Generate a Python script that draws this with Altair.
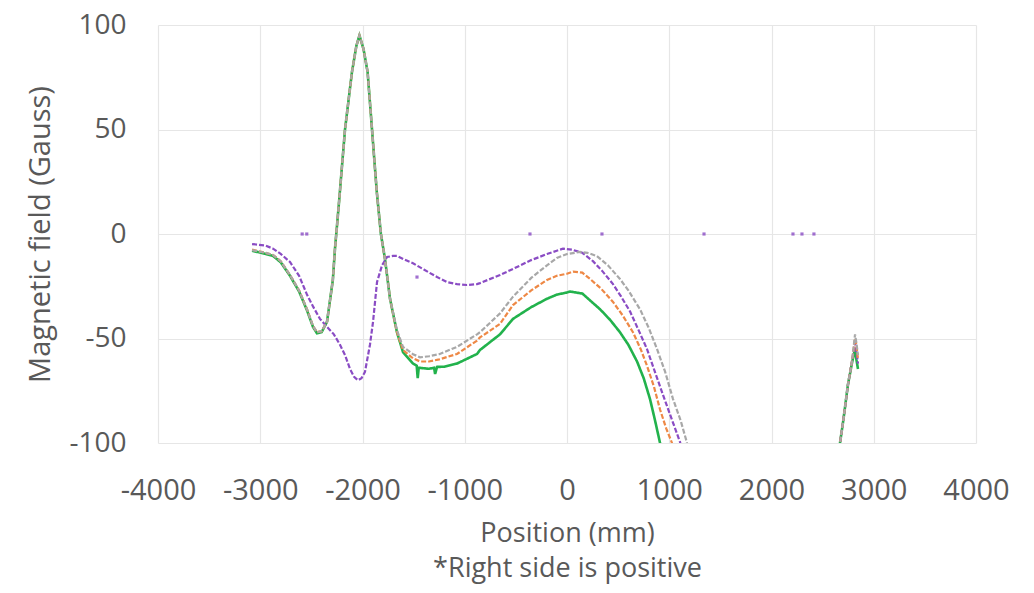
import altair as alt
import pandas as pd

# ---------------- data ----------------
gray_x = [-3080, -2950, -2875, -2800, -2709, -2620, -2543, -2484, -2445, -2400, -2347, -2290, -2269,
          -2230, -2171, -2103, -2060, -2030, -1990, -1950, -1907, -1860, -1820, -1780, -1731, -1663,
          -1604, -1506, -1437, -1350, -1250, -1076, -880, -851, -655, -528, -350, -196, -100, 0, 127,
          200, 290, 400, 518, 600, 714, 800, 880, 960, 1037, 1110, 1174, 1200]
gray_y = [-7.7, -9, -10, -13, -19.6, -27, -36, -44, -47, -46.5, -42, -22, -7,
          15, 50, 77.5, 90, 95, 88.5, 77.5, 50, 20, 0, -12, -31, -46,
          -54, -57.5, -59, -58.5, -57.5, -54, -48, -47, -38, -30, -21, -15, -11.5, -9.6, -8.6,
          -9, -10.5, -15, -21.5, -27, -36, -45, -55, -66, -79, -89, -100, -104]

orange_x = [-3080, -2950, -2875, -2800, -2709, -2620, -2543, -2484, -2445, -2400, -2347, -2290, -2269,
            -2230, -2171, -2103, -2060, -2030, -1990, -1950, -1907, -1860, -1820, -1780, -1731, -1663,
            -1604, -1506, -1437, -1350, -1250, -1076, -880, -851, -655, -528, -350, -196, -100, 0, 59,
            150, 225, 330, 450, 545, 645, 720, 782, 850, 910, 970, 1027, 1050]
orange_y = [-7.5, -9, -10, -13, -19.6, -27, -36, -44, -47, -46.5, -42, -22, -7,
            15, 50, 77.5, 90, 95, 88.5, 77.5, 50, 20, 0, -12, -31, -47,
            -55.5, -59.5, -61, -61, -60, -57.4, -51, -49.5, -43, -34, -27, -22, -20, -19, -18,
            -18.5, -21.5, -26, -32.5, -39, -47, -55, -63, -73, -84, -93, -100, -104]

green_x = [-3080, -2950, -2875, -2800, -2709, -2620, -2543, -2484, -2445, -2400, -2347, -2290, -2269,
           -2230, -2171, -2103, -2060, -2030, -1990, -1950, -1907, -1860, -1820, -1780, -1731, -1663,
           -1604, -1506, -1470, -1460, -1450, -1350, -1300, -1290, -1271, -1200, -1076, -880, -851,
           -655, -528, -350, -196, -100, 0, 29, 150, 323, 420, 518, 600, 685, 750, 812, 860, 910, 930]
green_y = [-8, -9.5, -10.5, -13.5, -20, -27.5, -36.5, -44.5, -47.5, -47, -42, -22, -7,
           15, 50, 77.5, 90, 95, 88.5, 77.5, 50, 20, 0, -12, -31, -47,
           -56.5, -62, -63, -69, -64, -64.5, -64, -67, -63.6, -63.5, -62, -57.4, -55.5,
           -48, -40.6, -35, -31, -29, -28, -27.5, -28.5, -36, -41, -47, -53, -61, -69, -79, -89, -100, -104]

purple_x = [-3080, -2950, -2875, -2800, -2709, -2620, -2543, -2480, -2416, -2347, -2280, -2220, -2170,
            -2122, -2080, -2044, -2010, -1976, -1927, -1897, -1858, -1809, -1760, -1702, -1663, -1600,
            -1506, -1400, -1271, -1174, -1076, -978, -880, -851, -655, -528, -350, -196, -100, -39, 50,
            150, 254, 350, 450, 530, 616, 700, 782, 860, 939, 1020, 1105, 1130]
purple_y = [-4.8, -5.5, -7, -9.5, -13.4, -20, -29, -35, -40.6, -44.5, -48, -53, -58,
            -64.6, -68.5, -70, -69, -66, -53, -42, -23, -15, -11, -10.5, -10.5, -12,
            -14, -17, -20.6, -23, -24, -24.4, -24, -23.5, -19.6, -16.7, -12.5, -9.6, -8, -7, -7.5,
            -9, -13, -18, -24, -30, -37, -46, -55, -66, -77, -88, -99.5, -104]

# right-hand segment (all four series)
right_x = [2650, 2670, 2700, 2748, 2790, 2817, 2830, 2846]
gray_right = [-106, -100, -90, -72, -60, -48, -52, -58]
orange_right = [-106, -100, -90, -72, -60, -50, -53, -60]
green_right = [-106, -100, -90, -72, -61, -55, -60, -64.6]
purple_right = [-106, -100, -90, -72, -60, -52, -56, -62]

# isolated purple readings
dots_x = [-2590, -2545, -1467, -362, 342, 1340, 2210, 2298, 2415]
dots_y = [0, 0, -20.6, 0, 0, 0, 0, 0, 0]

series_names = ["green", "purple", "orange", "gray"]
series_colors = ["#22b24c", "#8a4cc4", "#ee8845", "#a8a8a8"]

x_ticks = [-4000, -3000, -2000, -1000, 0, 1000, 2000, 3000, 4000]
y_ticks = [-100, -50, 0, 50, 100]

# ---------------- build table ----------------
rows = []
def add(name, xs, ys, seg):
    for i, (a, b) in enumerate(zip(xs, ys)):
        rows.append({"series": name, "seg": f"{name}-{seg}", "x": a, "y": b, "order": i})

add("gray", gray_x, gray_y, 1)
add("orange", orange_x, orange_y, 1)
add("green", green_x, green_y, 1)
add("purple", purple_x, purple_y, 1)
add("gray", right_x, gray_right, 2)
add("orange", right_x, orange_right, 2)
add("green", right_x, green_right, 2)
add("purple", right_x, purple_right, 2)
df = pd.DataFrame(rows)
dots = pd.DataFrame({"x": dots_x, "y": dots_y})

font = "Open Sans"
text_color = "#595959"

xscale = alt.Scale(domain=[-4000, 4000], nice=False)
yscale = alt.Scale(domain=[-100, 100], nice=False)

xaxis = alt.Axis(values=x_ticks, grid=True, domain=False, ticks=False, tickSize=0,
                 labelPadding=33, labelFontSize=29, labelFont=font, labelColor=text_color,
                 labelExpr="'' + datum.value", labelOverlap=False, labelFlush=False,
                 title=["Position (mm)", "*Right side is positive"],
                 titleFont=font, titleFontSize=27, titleFontWeight="normal", titleColor=text_color,
                 titleX=409, titleY=77, titleBaseline="top", titleAlign="center", titleLineHeight=35)
yaxis = alt.Axis(values=y_ticks, grid=True, domain=False, ticks=False, tickSize=0,
                 labelPadding=32, labelFontSize=28, labelFont=font, labelColor=text_color,
                 labelExpr="'' + datum.value", labelOverlap=False, labelFlush=False,
                 title="Magnetic field (Gauss)",
                 titleFont=font, titleFontSize=29, titleFontWeight="normal", titleColor=text_color,
                 titleX=-118, titleY=209, titleAngle=270, titleAlign="center", titleBaseline="middle")

color = alt.Color("series:N", scale=alt.Scale(domain=series_names, range=series_colors), legend=None)

def line_layer(name, dash, width):
    return alt.Chart(df[df.series == name]).mark_line(
        clip=True, strokeWidth=width, strokeDash=dash
    ).encode(
        x=alt.X("x:Q", scale=xscale, axis=xaxis),
        y=alt.Y("y:Q", scale=yscale, axis=yaxis),
        detail="seg:N",
        order="order:Q",
        color=color,
    )

layers = [
    line_layer("green", [1, 0], 2.6),
    line_layer("purple", [5, 2], 2.2),
    line_layer("orange", [5, 2], 2.2),
    line_layer("gray", [5, 2], 2.2),
]

dot_layer = alt.Chart(dots).mark_point(filled=True, shape="square", size=10, opacity=0.8,
                                       color="#8a4cc4", clip=True).encode(
    x=alt.X("x:Q", scale=xscale, axis=xaxis),
    y=alt.Y("y:Q", scale=yscale, axis=yaxis),
)

chart = alt.layer(*layers, dot_layer).properties(
    width=818, height=418,
    autosize=alt.AutoSizeParams(type="none"),
    padding={"left": 150, "top": 17, "right": 40, "bottom": 142},
    background="white",
).configure_view(stroke=None).configure_axis(gridColor="#e6e6e6", gridWidth=1.2)

chart.save("out.html", embed_options={"renderer": "svg", "actions": False})
